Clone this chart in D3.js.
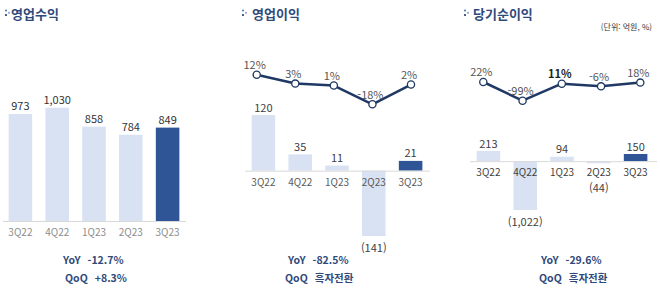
<!DOCTYPE html>
<html lang="ko">
<head>
<meta charset="utf-8">
<script src="https://d3js.org/d3.v7.min.js"></script>
<style>
  body { margin: 0; background: #fff; }
  text { font-family: "Noto Sans CJK KR", "Noto Sans", sans-serif; }
</style>
</head>
<body>
<script>
// values (억원, %)
var quarters = ["3Q22", "4Q22", "1Q23", "2Q23", "3Q23"];
var revenue = [973, 1030, 858, 784, 849];
var opIncome = [120, 35, 11, -141, 21];
var opMargin = [12, 3, 1, -18, 2];
var netIncome = [213, -1022, 94, -44, 150];
var netMargin = [22, -99, 11, -6, 18];

var titles = ["영업수익", "영업이익", "당기순이익"];
var yoyText = ["-12.7%", "-82.5%", "-29.6%"];
var qoqText = ["+8.3%", "흑자전환", "흑자전환"];

var width = 660, height = 290;
var navy = "#1f3864", titleCol = "#2f4a7a";
var lightBar = "#d9e2f3", darkBar = "#2f5597";

var svg = d3.select("body").append("svg")
  .attr("width", width)
  .attr("height", height);

// layout for each of the three panels
var panels = [
  { title: titles[0], tx: 11, bx: 6, bars: revenue, x0: 2, x1: 186,
    yDom: [0, 1030], yRange: [221, 107.7], axis: [3, 186], tickCol: "#8c8c8c", valCol: "#333",
    yoyX: 63, qoqX: 65, yoy: yoyText[0], qoq: qoqText[0] },
  { title: titles[1], tx: 252, bx: 243, bars: opIncome, x0: 245, x1: 429,
    yDom: [-141, 120], yRange: [236, 115], axis: [245, 430], tickCol: "#595959", valCol: "#404040",
    line: opMargin, lx: [256.7, 411], lyDom: [-18, 12], lyRange: [104.3, 74.7],
    yoyX: 288, qoqX: 285, yoy: yoyText[1], qoq: qoqText[1] },
  { title: titles[2], tx: 473, bx: 465, bars: netIncome, x0: 470, x1: 654,
    yDom: [-1022, 213], yRange: [210, 151], axis: [470, 657], tickCol: "#404040", valCol: "#404040",
    line: netMargin, lx: [483.3, 640.3], lyDom: [-99, 22], lyRange: [100.7, 82],
    yoyX: 541, qoqX: 539, yoy: yoyText[2], qoq: qoqText[2] }
];

var fmt = d3.format(",");

panels.forEach(function(p, pi) {
  var g = svg.append("g");

  // title with little dotted bullet
  g.append("circle").attr("cx", p.bx).attr("cy", 10.5).attr("r", 1.1).attr("fill", "#5b7bb4");
  g.append("circle").attr("cx", p.bx).attr("cy", 15).attr("r", 1.1).attr("fill", navy);
  g.append("circle").attr("cx", p.bx + 3).attr("cy", 12.8).attr("r", 1.1).attr("fill", "#8fa9d6");
  g.append("text")
    .attr("x", p.tx).attr("y", 13)
    .attr("dominant-baseline", "central")
    .attr("font-size", 13).attr("font-weight", "bold")
    .attr("fill", titleCol)
    .text(p.title);

  var x = d3.scaleBand().domain(quarters).range([p.x0, p.x1])
    .paddingInner(0.36).paddingOuter(0.18);
  var y = d3.scaleLinear().domain(p.yDom).range(p.yRange);
  var y0 = y(0);

  g.selectAll("rect.bar").data(p.bars).enter().append("rect")
    .attr("class", "bar")
    .attr("x", function(d, i) { return x(quarters[i]); })
    .attr("width", x.bandwidth())
    .attr("y", function(d) { return Math.min(y(d), y0); })
    .attr("height", function(d) { return Math.abs(y(d) - y0); })
    .attr("fill", function(d, i) { return i === quarters.length - 1 ? darkBar : lightBar; });

  g.append("line")
    .attr("x1", p.axis[0]).attr("x2", p.axis[1])
    .attr("y1", y0 + 0.5).attr("y2", y0 + 0.5)
    .attr("stroke", "#d9d9d9").attr("stroke-width", 1);

  var tickY = y0 + 10.5;
  g.selectAll("text.tick").data(quarters).enter().append("text")
    .attr("class", "tick")
    .attr("x", function(d) { return x(d) + x.bandwidth() / 2; })
    .attr("y", tickY)
    .attr("text-anchor", "middle").attr("dominant-baseline", "central")
    .attr("font-size", 10).attr("fill", p.tickCol)
    .text(function(d) { return d; });

  g.selectAll("text.val").data(p.bars).enter().append("text")
    .attr("class", "val")
    .attr("x", function(d, i) { return x(quarters[i]) + x.bandwidth() / 2; })
    .attr("y", function(d) {
      if (d >= 0) return y(d) - 8.5;
      return Math.max(y(d) + 10.5, tickY + 15);
    })
    .attr("text-anchor", "middle").attr("dominant-baseline", "central")
    .attr("font-size", 11).attr("fill", p.valCol)
    .text(function(d) { return d < 0 ? "(" + fmt(-d) + ")" : fmt(d); });

  if (p.line) {
    var lx = d3.scalePoint().domain(quarters).range(p.lx);
    var ly = d3.scaleLinear().domain(p.lyDom).range(p.lyRange);
    var line = d3.line()
      .x(function(d, i) { return lx(quarters[i]); })
      .y(function(d) { return ly(d); });
    g.append("path").datum(p.line)
      .attr("d", line)
      .attr("fill", "none").attr("stroke", navy).attr("stroke-width", 2.5)
      .attr("stroke-linejoin", "round");
    g.selectAll("circle.pt").data(p.line).enter().append("circle")
      .attr("class", "pt")
      .attr("cx", function(d, i) { return lx(quarters[i]); })
      .attr("cy", function(d) { return ly(d); })
      .attr("r", 3.6)
      .attr("fill", "#fff").attr("stroke", navy).attr("stroke-width", 1.3);
    g.selectAll("text.pct").data(p.line).enter().append("text")
      .attr("class", "pct")
      .attr("x", function(d, i) { return lx(quarters[i]) - 2; })
      .attr("y", function(d) { return ly(d) - 10.8; })
      .attr("text-anchor", "middle").attr("dominant-baseline", "central")
      .attr("font-size", 11)
      .attr("font-weight", function(d) { return pi === 2 && d === 11 ? "bold" : "normal"; })
      .attr("fill", function(d) { return pi === 2 && d === 11 ? "#222" : "#555"; })
      .text(function(d) { return d + "%"; });
  }

  // YoY / QoQ summary
  [["YoY", p.yoy, p.yoyX, 258.5], ["QoQ", p.qoq, p.qoqX, 277]].forEach(function(r) {
    var t = g.append("text")
      .attr("x", r[2]).attr("y", r[3])
      .attr("dominant-baseline", "central")
      .attr("font-size", 10.5).attr("font-weight", "bold")
      .attr("fill", titleCol);
    t.append("tspan").text(r[0]);
    t.append("tspan").attr("dx", 7).text(r[1]);
  });
});

svg.append("text")
  .attr("x", 652).attr("y", 26.7)
  .attr("text-anchor", "end").attr("dominant-baseline", "central")
  .attr("font-size", 8).attr("fill", "#333")
  .text("(단위: 억원, %)");
</script>
</body>
</html>
